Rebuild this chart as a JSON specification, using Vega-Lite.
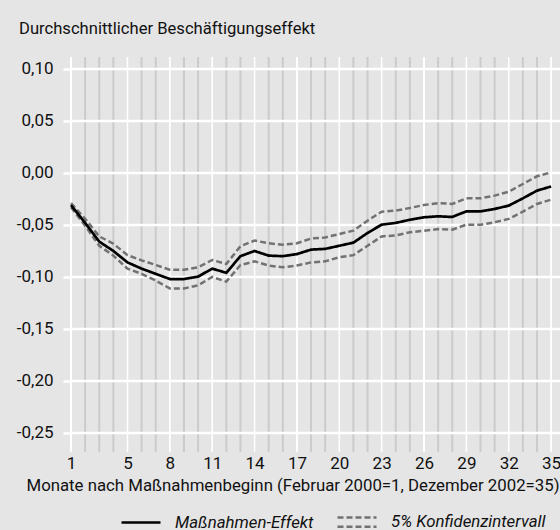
{
  "$schema": "https://vega.github.io/schema/vega-lite/v6.json",
  "width": 489,
  "height": 395,
  "autosize": {"type": "none"},
  "padding": {"left": 71, "top": 57, "right": 0, "bottom": 78},
  "background": "#e5e5e5",
  "title": {
    "text": "Durchschnittlicher Beschäftigungseffekt",
    "anchor": "start",
    "frame": "group",
    "dx": -52,
    "offset": 18,
    "fontSize": 16.6,
    "fontWeight": "normal",
    "color": "#111111"
  },
  "config": {
    "font": "Roboto, sans-serif",
    "view": {"stroke": null},
    "axisX": {
      "grid": false,
      "ticks": false,
      "domain": false,
      "labelFontSize": 17,
      "labelColor": "#111111",
      "labelPadding": 3,
      "labelFlush": false,
      "titleFontSize": 16.8,
      "titleFontWeight": "normal",
      "titleColor": "#111111",
      "titleAnchor": "start",
      "titleAlign": "left",
      "titleX": -45,
      "titlePadding": 6
    },
    "axisY": {
      "grid": false,
      "domain": false,
      "tickColor": "white",
      "tickWidth": 2.5,
      "tickSize": 8,
      "labelPadding": 10,
      "labelFontSize": 17,
      "labelColor": "#111111"
    },
    "legend": {
      "orient": "none",
      "legendX": 49,
      "legendY": 444,
      "direction": "horizontal",
      "columns": 2,
      "symbolType": "stroke",
      "symbolSize": 1521,
      "symbolStrokeWidth": 2.5,
      "labelFontSize": 16.8,
      "labelFontStyle": "italic",
      "labelColor": "#111111",
      "labelOffset": 13,
      "columnPadding": 18,
      "labelLimit": 300
    }
  },
  "datasets": {
    "monate": [
      {"Monat": 1}, {"Monat": 2}, {"Monat": 3}, {"Monat": 4}, {"Monat": 5}, {"Monat": 6}, {"Monat": 7},
      {"Monat": 8}, {"Monat": 9}, {"Monat": 10}, {"Monat": 11}, {"Monat": 12}, {"Monat": 13}, {"Monat": 14},
      {"Monat": 15}, {"Monat": 16}, {"Monat": 17}, {"Monat": 18}, {"Monat": 19}, {"Monat": 20}, {"Monat": 21},
      {"Monat": 22}, {"Monat": 23}, {"Monat": 24}, {"Monat": 25}, {"Monat": 26}, {"Monat": 27}, {"Monat": 28},
      {"Monat": 29}, {"Monat": 30}, {"Monat": 31}, {"Monat": 32}, {"Monat": 33}, {"Monat": 34}, {"Monat": 35}
    ],
    "marken": [
      {"Monat": 1}, {"Monat": 5}, {"Monat": 8}, {"Monat": 11}, {"Monat": 14}, {"Monat": 17},
      {"Monat": 20}, {"Monat": 23}, {"Monat": 26}, {"Monat": 29}, {"Monat": 32}, {"Monat": 35}
    ],
    "ywerte": [
      {"Wert": 0.10}, {"Wert": 0.05}, {"Wert": 0.0}, {"Wert": -0.05},
      {"Wert": -0.10}, {"Wert": -0.15}, {"Wert": -0.20}, {"Wert": -0.25}
    ],
    "kurven": [
      {"Monat": 1, "Reihe": "Effekt", "Art": "Maßnahmen-Effekt", "Wert": -0.031},
      {"Monat": 2, "Reihe": "Effekt", "Art": "Maßnahmen-Effekt", "Wert": -0.048},
      {"Monat": 3, "Reihe": "Effekt", "Art": "Maßnahmen-Effekt", "Wert": -0.066},
      {"Monat": 4, "Reihe": "Effekt", "Art": "Maßnahmen-Effekt", "Wert": -0.075},
      {"Monat": 5, "Reihe": "Effekt", "Art": "Maßnahmen-Effekt", "Wert": -0.086},
      {"Monat": 6, "Reihe": "Effekt", "Art": "Maßnahmen-Effekt", "Wert": -0.092},
      {"Monat": 7, "Reihe": "Effekt", "Art": "Maßnahmen-Effekt", "Wert": -0.097},
      {"Monat": 8, "Reihe": "Effekt", "Art": "Maßnahmen-Effekt", "Wert": -0.102},
      {"Monat": 9, "Reihe": "Effekt", "Art": "Maßnahmen-Effekt", "Wert": -0.102},
      {"Monat": 10, "Reihe": "Effekt", "Art": "Maßnahmen-Effekt", "Wert": -0.0997},
      {"Monat": 11, "Reihe": "Effekt", "Art": "Maßnahmen-Effekt", "Wert": -0.092},
      {"Monat": 12, "Reihe": "Effekt", "Art": "Maßnahmen-Effekt", "Wert": -0.096},
      {"Monat": 13, "Reihe": "Effekt", "Art": "Maßnahmen-Effekt", "Wert": -0.080},
      {"Monat": 14, "Reihe": "Effekt", "Art": "Maßnahmen-Effekt", "Wert": -0.075},
      {"Monat": 15, "Reihe": "Effekt", "Art": "Maßnahmen-Effekt", "Wert": -0.0795},
      {"Monat": 16, "Reihe": "Effekt", "Art": "Maßnahmen-Effekt", "Wert": -0.080},
      {"Monat": 17, "Reihe": "Effekt", "Art": "Maßnahmen-Effekt", "Wert": -0.078},
      {"Monat": 18, "Reihe": "Effekt", "Art": "Maßnahmen-Effekt", "Wert": -0.0737},
      {"Monat": 19, "Reihe": "Effekt", "Art": "Maßnahmen-Effekt", "Wert": -0.073},
      {"Monat": 20, "Reihe": "Effekt", "Art": "Maßnahmen-Effekt", "Wert": -0.070},
      {"Monat": 21, "Reihe": "Effekt", "Art": "Maßnahmen-Effekt", "Wert": -0.067},
      {"Monat": 22, "Reihe": "Effekt", "Art": "Maßnahmen-Effekt", "Wert": -0.0577},
      {"Monat": 23, "Reihe": "Effekt", "Art": "Maßnahmen-Effekt", "Wert": -0.0497},
      {"Monat": 24, "Reihe": "Effekt", "Art": "Maßnahmen-Effekt", "Wert": -0.048},
      {"Monat": 25, "Reihe": "Effekt", "Art": "Maßnahmen-Effekt", "Wert": -0.045},
      {"Monat": 26, "Reihe": "Effekt", "Art": "Maßnahmen-Effekt", "Wert": -0.0426},
      {"Monat": 27, "Reihe": "Effekt", "Art": "Maßnahmen-Effekt", "Wert": -0.0417},
      {"Monat": 28, "Reihe": "Effekt", "Art": "Maßnahmen-Effekt", "Wert": -0.0423},
      {"Monat": 29, "Reihe": "Effekt", "Art": "Maßnahmen-Effekt", "Wert": -0.0369},
      {"Monat": 30, "Reihe": "Effekt", "Art": "Maßnahmen-Effekt", "Wert": -0.0369},
      {"Monat": 31, "Reihe": "Effekt", "Art": "Maßnahmen-Effekt", "Wert": -0.0346},
      {"Monat": 32, "Reihe": "Effekt", "Art": "Maßnahmen-Effekt", "Wert": -0.0314},
      {"Monat": 33, "Reihe": "Effekt", "Art": "Maßnahmen-Effekt", "Wert": -0.0244},
      {"Monat": 34, "Reihe": "Effekt", "Art": "Maßnahmen-Effekt", "Wert": -0.017},
      {"Monat": 35, "Reihe": "Effekt", "Art": "Maßnahmen-Effekt", "Wert": -0.013},
      {"Monat": 1, "Reihe": "Obergrenze", "Art": "5% Konfidenzintervall", "Wert": -0.029},
      {"Monat": 2, "Reihe": "Obergrenze", "Art": "5% Konfidenzintervall", "Wert": -0.044},
      {"Monat": 3, "Reihe": "Obergrenze", "Art": "5% Konfidenzintervall", "Wert": -0.061},
      {"Monat": 4, "Reihe": "Obergrenze", "Art": "5% Konfidenzintervall", "Wert": -0.068},
      {"Monat": 5, "Reihe": "Obergrenze", "Art": "5% Konfidenzintervall", "Wert": -0.079},
      {"Monat": 6, "Reihe": "Obergrenze", "Art": "5% Konfidenzintervall", "Wert": -0.084},
      {"Monat": 7, "Reihe": "Obergrenze", "Art": "5% Konfidenzintervall", "Wert": -0.0885},
      {"Monat": 8, "Reihe": "Obergrenze", "Art": "5% Konfidenzintervall", "Wert": -0.093},
      {"Monat": 9, "Reihe": "Obergrenze", "Art": "5% Konfidenzintervall", "Wert": -0.093},
      {"Monat": 10, "Reihe": "Obergrenze", "Art": "5% Konfidenzintervall", "Wert": -0.0907},
      {"Monat": 11, "Reihe": "Obergrenze", "Art": "5% Konfidenzintervall", "Wert": -0.0837},
      {"Monat": 12, "Reihe": "Obergrenze", "Art": "5% Konfidenzintervall", "Wert": -0.0875},
      {"Monat": 13, "Reihe": "Obergrenze", "Art": "5% Konfidenzintervall", "Wert": -0.0705},
      {"Monat": 14, "Reihe": "Obergrenze", "Art": "5% Konfidenzintervall", "Wert": -0.065},
      {"Monat": 15, "Reihe": "Obergrenze", "Art": "5% Konfidenzintervall", "Wert": -0.0676},
      {"Monat": 16, "Reihe": "Obergrenze", "Art": "5% Konfidenzintervall", "Wert": -0.069},
      {"Monat": 17, "Reihe": "Obergrenze", "Art": "5% Konfidenzintervall", "Wert": -0.0676},
      {"Monat": 18, "Reihe": "Obergrenze", "Art": "5% Konfidenzintervall", "Wert": -0.063},
      {"Monat": 19, "Reihe": "Obergrenze", "Art": "5% Konfidenzintervall", "Wert": -0.062},
      {"Monat": 20, "Reihe": "Obergrenze", "Art": "5% Konfidenzintervall", "Wert": -0.0587},
      {"Monat": 21, "Reihe": "Obergrenze", "Art": "5% Konfidenzintervall", "Wert": -0.0555},
      {"Monat": 22, "Reihe": "Obergrenze", "Art": "5% Konfidenzintervall", "Wert": -0.0459},
      {"Monat": 23, "Reihe": "Obergrenze", "Art": "5% Konfidenzintervall", "Wert": -0.0372},
      {"Monat": 24, "Reihe": "Obergrenze", "Art": "5% Konfidenzintervall", "Wert": -0.0362},
      {"Monat": 25, "Reihe": "Obergrenze", "Art": "5% Konfidenzintervall", "Wert": -0.0337},
      {"Monat": 26, "Reihe": "Obergrenze", "Art": "5% Konfidenzintervall", "Wert": -0.0308},
      {"Monat": 27, "Reihe": "Obergrenze", "Art": "5% Konfidenzintervall", "Wert": -0.029},
      {"Monat": 28, "Reihe": "Obergrenze", "Art": "5% Konfidenzintervall", "Wert": -0.0298},
      {"Monat": 29, "Reihe": "Obergrenze", "Art": "5% Konfidenzintervall", "Wert": -0.0244},
      {"Monat": 30, "Reihe": "Obergrenze", "Art": "5% Konfidenzintervall", "Wert": -0.0244},
      {"Monat": 31, "Reihe": "Obergrenze", "Art": "5% Konfidenzintervall", "Wert": -0.0218},
      {"Monat": 32, "Reihe": "Obergrenze", "Art": "5% Konfidenzintervall", "Wert": -0.018},
      {"Monat": 33, "Reihe": "Obergrenze", "Art": "5% Konfidenzintervall", "Wert": -0.0106},
      {"Monat": 34, "Reihe": "Obergrenze", "Art": "5% Konfidenzintervall", "Wert": -0.0032},
      {"Monat": 35, "Reihe": "Obergrenze", "Art": "5% Konfidenzintervall", "Wert": 0.0006},
      {"Monat": 1, "Reihe": "Untergrenze", "Art": "5% Konfidenzintervall", "Wert": -0.033},
      {"Monat": 2, "Reihe": "Untergrenze", "Art": "5% Konfidenzintervall", "Wert": -0.0507},
      {"Monat": 3, "Reihe": "Untergrenze", "Art": "5% Konfidenzintervall", "Wert": -0.070},
      {"Monat": 4, "Reihe": "Untergrenze", "Art": "5% Konfidenzintervall", "Wert": -0.0795},
      {"Monat": 5, "Reihe": "Untergrenze", "Art": "5% Konfidenzintervall", "Wert": -0.092},
      {"Monat": 6, "Reihe": "Untergrenze", "Art": "5% Konfidenzintervall", "Wert": -0.097},
      {"Monat": 7, "Reihe": "Untergrenze", "Art": "5% Konfidenzintervall", "Wert": -0.1035},
      {"Monat": 8, "Reihe": "Untergrenze", "Art": "5% Konfidenzintervall", "Wert": -0.111},
      {"Monat": 9, "Reihe": "Untergrenze", "Art": "5% Konfidenzintervall", "Wert": -0.111},
      {"Monat": 10, "Reihe": "Untergrenze", "Art": "5% Konfidenzintervall", "Wert": -0.108},
      {"Monat": 11, "Reihe": "Untergrenze", "Art": "5% Konfidenzintervall", "Wert": -0.100},
      {"Monat": 12, "Reihe": "Untergrenze", "Art": "5% Konfidenzintervall", "Wert": -0.1045},
      {"Monat": 13, "Reihe": "Untergrenze", "Art": "5% Konfidenzintervall", "Wert": -0.0885},
      {"Monat": 14, "Reihe": "Untergrenze", "Art": "5% Konfidenzintervall", "Wert": -0.085},
      {"Monat": 15, "Reihe": "Untergrenze", "Art": "5% Konfidenzintervall", "Wert": -0.089},
      {"Monat": 16, "Reihe": "Untergrenze", "Art": "5% Konfidenzintervall", "Wert": -0.0907},
      {"Monat": 17, "Reihe": "Untergrenze", "Art": "5% Konfidenzintervall", "Wert": -0.089},
      {"Monat": 18, "Reihe": "Untergrenze", "Art": "5% Konfidenzintervall", "Wert": -0.086},
      {"Monat": 19, "Reihe": "Untergrenze", "Art": "5% Konfidenzintervall", "Wert": -0.085},
      {"Monat": 20, "Reihe": "Untergrenze", "Art": "5% Konfidenzintervall", "Wert": -0.081},
      {"Monat": 21, "Reihe": "Untergrenze", "Art": "5% Konfidenzintervall", "Wert": -0.079},
      {"Monat": 22, "Reihe": "Untergrenze", "Art": "5% Konfidenzintervall", "Wert": -0.070},
      {"Monat": 23, "Reihe": "Untergrenze", "Art": "5% Konfidenzintervall", "Wert": -0.061},
      {"Monat": 24, "Reihe": "Untergrenze", "Art": "5% Konfidenzintervall", "Wert": -0.060},
      {"Monat": 25, "Reihe": "Untergrenze", "Art": "5% Konfidenzintervall", "Wert": -0.057},
      {"Monat": 26, "Reihe": "Untergrenze", "Art": "5% Konfidenzintervall", "Wert": -0.0555},
      {"Monat": 27, "Reihe": "Untergrenze", "Art": "5% Konfidenzintervall", "Wert": -0.054},
      {"Monat": 28, "Reihe": "Untergrenze", "Art": "5% Konfidenzintervall", "Wert": -0.0545},
      {"Monat": 29, "Reihe": "Untergrenze", "Art": "5% Konfidenzintervall", "Wert": -0.0497},
      {"Monat": 30, "Reihe": "Untergrenze", "Art": "5% Konfidenzintervall", "Wert": -0.0497},
      {"Monat": 31, "Reihe": "Untergrenze", "Art": "5% Konfidenzintervall", "Wert": -0.0474},
      {"Monat": 32, "Reihe": "Untergrenze", "Art": "5% Konfidenzintervall", "Wert": -0.0442},
      {"Monat": 33, "Reihe": "Untergrenze", "Art": "5% Konfidenzintervall", "Wert": -0.0372},
      {"Monat": 34, "Reihe": "Untergrenze", "Art": "5% Konfidenzintervall", "Wert": -0.0298},
      {"Monat": 35, "Reihe": "Untergrenze", "Art": "5% Konfidenzintervall", "Wert": -0.0257}
    ]
  },
  "layer": [
    {
      "data": {"name": "monate"},
      "mark": {"type": "rule", "color": "#cbcbcb", "strokeWidth": 2},
      "encoding": {
        "x": {
          "field": "Monat", "type": "quantitative",
          "title": "Monate nach Maßnahmenbeginn (Februar 2000=1, Dezember 2002=35)",
          "scale": {"domain": [1, 35.63], "nice": false, "zero": false},
          "axis": {"values": [1, 5, 8, 11, 14, 17, 20, 23, 26, 29, 32, 35]}
        }
      }
    },
    {
      "data": {"name": "marken"},
      "mark": {"type": "rule", "color": "white", "strokeWidth": 2},
      "encoding": {
        "x": {
          "field": "Monat", "type": "quantitative",
          "title": "Monate nach Maßnahmenbeginn (Februar 2000=1, Dezember 2002=35)",
          "scale": {"domain": [1, 35.63], "nice": false, "zero": false},
          "axis": {"values": [1, 5, 8, 11, 14, 17, 20, 23, 26, 29, 32, 35]}
        }
      }
    },
    {
      "data": {"name": "ywerte"},
      "mark": {"type": "rule", "color": "white", "strokeWidth": 2.5},
      "encoding": {
        "y": {
          "field": "Wert", "type": "quantitative", "title": null,
          "scale": {"domain": [-0.2683, 0.1115], "nice": false, "zero": false},
          "axis": {
            "values": [-0.25, -0.2, -0.15, -0.1, -0.05, 0, 0.05, 0.1],
            "labelExpr": "replace(replace(format(datum.value, '.2f'), '.', ','), '−', '-')"
          }
        }
      }
    },
    {
      "data": {"name": "kurven"},
      "transform": [{"filter": "datum.Reihe !== 'Effekt'"}],
      "mark": {"type": "line", "strokeWidth": 2.5},
      "encoding": {
        "x": {
          "field": "Monat", "type": "quantitative",
          "title": "Monate nach Maßnahmenbeginn (Februar 2000=1, Dezember 2002=35)",
          "scale": {"domain": [1, 35.63], "nice": false, "zero": false},
          "axis": {"values": [1, 5, 8, 11, 14, 17, 20, 23, 26, 29, 32, 35]}
        },
        "y": {
          "field": "Wert", "type": "quantitative", "title": null,
          "scale": {"domain": [-0.2683, 0.1115], "nice": false, "zero": false},
          "axis": {
            "values": [-0.25, -0.2, -0.15, -0.1, -0.05, 0, 0.05, 0.1],
            "labelExpr": "replace(replace(format(datum.value, '.2f'), '.', ','), '−', '-')"
          }
        },
        "detail": {"field": "Reihe"},
        "color": {
          "field": "Art", "type": "nominal", "title": null,
          "scale": {"domain": ["Maßnahmen-Effekt", "5% Konfidenzintervall"], "range": ["#000000", "#727272"]},
          "legend": {
            "encode": {
              "symbols": {
                "update": {
                  "shape": {"signal": "datum.value === '5% Konfidenzintervall' ? 'M-1,-0.24H1M-1,0.24H1' : 'stroke'"},
                  "stroke": {"signal": "datum.value === '5% Konfidenzintervall' ? '#a3a3a3' : '#000000'"},
                  "strokeDash": {"signal": "datum.value === '5% Konfidenzintervall' ? [5, 2.5] : [1, 0]"}
                }
              }
            }
          }
        },
        "strokeDash": {
          "field": "Art", "type": "nominal", "title": null,
          "scale": {"domain": ["Maßnahmen-Effekt", "5% Konfidenzintervall"], "range": [[1, 0], [6, 3]]}
        }
      }
    },
    {
      "data": {"name": "kurven"},
      "transform": [{"filter": "datum.Reihe === 'Effekt'"}],
      "mark": {"type": "line", "strokeWidth": 2.7},
      "encoding": {
        "x": {
          "field": "Monat", "type": "quantitative",
          "title": "Monate nach Maßnahmenbeginn (Februar 2000=1, Dezember 2002=35)",
          "scale": {"domain": [1, 35.63], "nice": false, "zero": false},
          "axis": {"values": [1, 5, 8, 11, 14, 17, 20, 23, 26, 29, 32, 35]}
        },
        "y": {
          "field": "Wert", "type": "quantitative", "title": null,
          "scale": {"domain": [-0.2683, 0.1115], "nice": false, "zero": false},
          "axis": {
            "values": [-0.25, -0.2, -0.15, -0.1, -0.05, 0, 0.05, 0.1],
            "labelExpr": "replace(replace(format(datum.value, '.2f'), '.', ','), '−', '-')"
          }
        },
        "color": {
          "field": "Art", "type": "nominal", "title": null,
          "scale": {"domain": ["Maßnahmen-Effekt", "5% Konfidenzintervall"], "range": ["#000000", "#727272"]}
        },
        "strokeDash": {
          "field": "Art", "type": "nominal", "title": null,
          "scale": {"domain": ["Maßnahmen-Effekt", "5% Konfidenzintervall"], "range": [[1, 0], [6, 3]]}
        }
      }
    }
  ]
}
